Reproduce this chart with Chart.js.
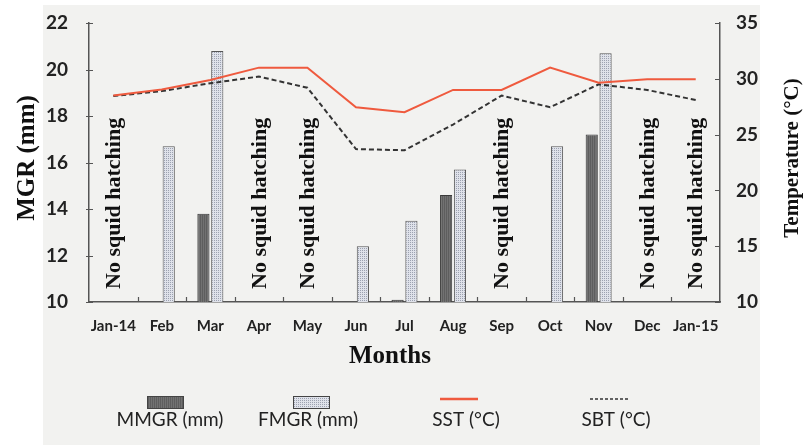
<!DOCTYPE html>
<html>
<head>
<meta charset="utf-8">
<script src="https://cdn.jsdelivr.net/npm/chart.js@4.4.0/dist/chart.umd.min.js"></script>
<style>
  html, body { margin: 0; padding: 0; background: #fff; }
  #wrap { width: 805px; height: 445px; }
</style>
</head>
<body>
<div id="wrap"><canvas id="chart" width="805" height="445"></canvas></div>
<script>
// data
const months = ["Jan-14", "Feb", "Mar", "Apr", "May", "Jun", "Jul", "Aug", "Sep", "Oct", "Nov", "Dec", "Jan-15"];
const mmgr = [null, null, 13.8, null, null, null, 10.1, 14.6, null, null, 17.2, null, null];
const fmgr = [null, 16.7, 20.8, null, null, 12.4, 13.5, 15.7, null, 16.7, 20.7, null, null];
const sst = [28.5, 29.05, 29.9, 31.0, 31.0, 27.45, 27.0, 29.0, 29.0, 31.0, 29.65, 29.95, 29.95];
const sbt = [28.45, 28.9, 29.6, 30.2, 29.2, 23.7, 23.6, 25.9, 28.5, 27.45, 29.5, 29.0, 28.1];
const noHatching = ["Jan-14", "Apr", "May", "Sep", "Dec", "Jan-15"];
const mgrTicks = [10, 12, 14, 16, 18, 20, 22];
const tempTicks = [10, 15, 20, 25, 30, 35];

const tickFont = "Lato";
const serif = "'Liberation Serif', 'Times New Roman', serif";

// hatched fills like the original bars
function makePattern(base, dot, kind) {
    const c = document.createElement("canvas");
    c.width = 4; c.height = 4;
    const g = c.getContext("2d");
    g.fillStyle = base;
    g.fillRect(0, 0, 4, 4);
    g.fillStyle = dot;
    if (kind === "dots") {
        g.fillRect(0, 0, 1, 1);
        g.fillRect(2, 2, 1, 1);
        g.fillRect(2, 0, 1, 1);
        g.fillRect(0, 2, 1, 1);
    } else {
        g.fillRect(0, 0, 1, 4);
        g.fillRect(2, 0, 1, 4);
    }
    return g.createPattern(c, "repeat");
}
const darkFill = makePattern("#727272", "#5e5e5e", "lines");
const lightFill = makePattern("#dfe2ea", "#9ca1b0", "dots");

const decor = {
    id: "decor",
    beforeDraw(chart) {
        const ctx = chart.ctx;
        ctx.save();
        ctx.fillStyle = "#ffffff";
        ctx.fillRect(0, 0, chart.width, chart.height);
        ctx.fillStyle = "#f2f2f0";
        ctx.fillRect(43, 5, 717, 440);
        ctx.restore();
    },
    beforeDatasetsDraw(chart) {
        // "No squid hatching" notes, vertical
        const ctx = chart.ctx;
        const x = chart.scales.x;
        const bottom = chart.chartArea.bottom;
        ctx.save();
        ctx.fillStyle = "#111";
        ctx.font = "bold 22px " + serif;
        ctx.textAlign = "left";
        ctx.textBaseline = "middle";
        noHatching.forEach(function (m) {
            const px = x.getPixelForValue(months.indexOf(m));
            ctx.save();
            ctx.translate(px + 1, bottom - 13);
            ctx.rotate(-Math.PI / 2);
            ctx.fillText("No squid hatching", 0, 0);
            ctx.restore();
        });
        ctx.restore();
    },
    afterDraw(chart) {
        const ctx = chart.ctx;
        const area = chart.chartArea;
        const x = chart.scales.x, y = chart.scales.y, y2 = chart.scales.y2;
        ctx.save();
        ctx.strokeStyle = "#555";
        ctx.lineWidth = 1.2;
        ctx.beginPath();
        // inward ticks at category boundaries
        const step = (area.right - area.left) / months.length;
        for (let i = 1; i < months.length; i++) {
            const px = Math.round(area.left + i * step) + 0.5;
            ctx.moveTo(px, area.bottom);
            ctx.lineTo(px, area.bottom - 5);
        }
        mgrTicks.forEach(function (v) {
            const py = Math.round(y.getPixelForValue(v)) + 0.5;
            ctx.moveTo(area.left - 3, py);
            ctx.lineTo(area.left + 4, py);
        });
        tempTicks.forEach(function (v) {
            const py = Math.round(y2.getPixelForValue(v)) + 0.5;
            ctx.moveTo(area.right, py);
            ctx.lineTo(area.right - 5, py);
        });
        ctx.stroke();

        // axis titles
        ctx.fillStyle = "#111";
        ctx.textAlign = "center";
        ctx.textBaseline = "middle";
        ctx.font = "bold 25px " + serif;
        ctx.fillText("Months", 390, 357);
        ctx.save();
        ctx.translate(28, 158);
        ctx.rotate(-Math.PI / 2);
        ctx.fillText("MGR (mm)", 0, 0);
        ctx.restore();
        ctx.save();
        ctx.font = "bold 21px " + serif;
        ctx.translate(793, 158);
        ctx.rotate(-Math.PI / 2);
        ctx.fillText("Temperature (\u00B0C)", 0, 0);
        ctx.restore();

        // legend: symbol above label
        const symX = [165, 311, 459, 609];
        const txtX = [170, 308, 466, 616];
        chart.data.datasets.forEach(function (ds, i) {
            const cx = symX[i];
            if (ds.type === "line") {
                ctx.save();
                ctx.strokeStyle = ds.borderColor;
                ctx.lineWidth = ds.borderDash ? 1.5 : 2.5;
                ctx.setLineDash(ds.borderDash ? [3, 2] : []);
                ctx.beginPath();
                ctx.moveTo(cx - 19, 399);
                ctx.lineTo(cx + 19, 399);
                ctx.stroke();
                ctx.restore();
            } else {
                ctx.fillStyle = ds.backgroundColor;
                ctx.fillRect(cx - 18, 396, 36, 12);
                ctx.strokeStyle = "#444";
                ctx.lineWidth = 1;
                ctx.strokeRect(cx - 18 + 0.5, 396.5, 36, 12);
            }
            ctx.fillStyle = "#222";
            ctx.font = "19px " + tickFont;
            ctx.fillText(ds.label, txtX[i], 420);
        });
        ctx.restore();
    }
};

const ctx = document.getElementById("chart");

new Chart(ctx, {
    type: "bar",
    data: {
        labels: months,
        datasets: [{
            label: "MMGR (mm)",
            data: mmgr,
            backgroundColor: darkFill,
            borderColor: "#3a3a3a",
            borderWidth: 1,
            yAxisID: "y",
            order: 2
        }, {
            label: "FMGR (mm)",
            data: fmgr,
            backgroundColor: lightFill,
            borderColor: "#555",
            borderWidth: 1,
            yAxisID: "y",
            order: 2
        }, {
            type: "line",
            label: "SST (\u00B0C)",
            data: sst,
            borderColor: "#ef5a3e",
            borderWidth: 2,
            pointRadius: 0,
            tension: 0,
            yAxisID: "y2",
            order: 1
        }, {
            type: "line",
            label: "SBT (\u00B0C)",
            data: sbt,
            borderColor: "#333",
            borderWidth: 2,
            borderDash: [5, 3],
            pointRadius: 0,
            tension: 0,
            yAxisID: "y2",
            order: 1
        }]
    },
    options: {
        responsive: false,
        devicePixelRatio: 1,
        animation: false,
        layout: { padding: { top: 23, left: 0, right: 0, bottom: 0 } },
        datasets: {
            bar: { categoryPercentage: 0.57, barPercentage: 0.88 }
        },
        plugins: {
            legend: { display: false },
            tooltip: { enabled: false }
        },
        scales: {
            x: {
                offset: true,
                grid: { display: true, drawOnChartArea: false, drawTicks: false },
                border: { display: true, color: "#555", width: 1.5 },
                ticks: {
                    color: "#222",
                    padding: 15,
                    maxRotation: 0,
                    autoSkip: false,
                    font: { family: tickFont, size: 15, weight: "bold" }
                },
                afterFit: function (scale) { scale.height = 143; }
            },
            y: {
                position: "left",
                min: 10,
                max: 22,
                afterBuildTicks: function (scale) {
                    scale.ticks = mgrTicks.map(function (v) { return { value: v }; });
                },
                // invisible tick marks just push the labels out
                grid: { drawOnChartArea: false, drawTicks: true, tickLength: 18, tickColor: "rgba(0,0,0,0)" },
                border: { display: true, color: "#555", width: 1.5 },
                ticks: {
                    color: "#222",
                    padding: 3,
                    font: { family: tickFont, size: 19, weight: "bold" }
                },
                afterFit: function (scale) { scale.width = 89; }
            },
            y2: {
                position: "right",
                min: 10,
                max: 35,
                afterBuildTicks: function (scale) {
                    scale.ticks = tempTicks.map(function (v) { return { value: v }; });
                },
                grid: { drawOnChartArea: false, drawTicks: true, tickLength: 14, tickColor: "rgba(0,0,0,0)" },
                border: { display: true, color: "#555", width: 1.5 },
                ticks: {
                    color: "#222",
                    padding: 2,
                    font: { family: tickFont, size: 19, weight: "bold" }
                },
                afterFit: function (scale) { scale.width = 85; }
            }
        }
    },
    plugins: [decor]
});
</script>
</body>
</html>
